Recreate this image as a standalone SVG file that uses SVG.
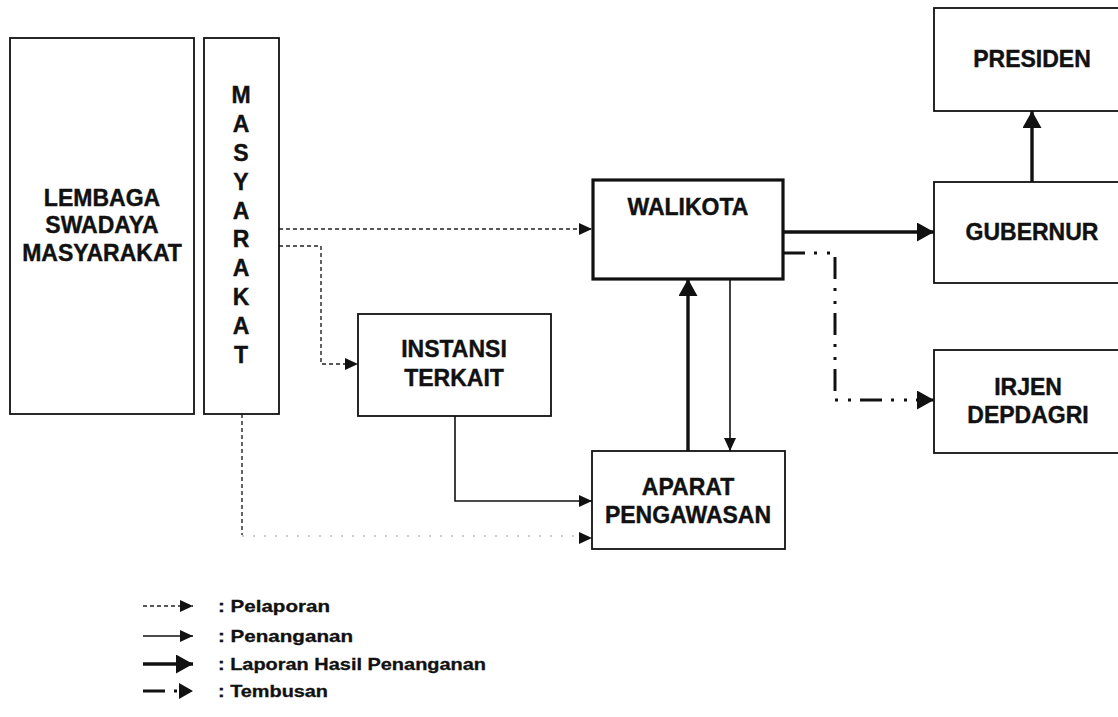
<svg xmlns="http://www.w3.org/2000/svg" width="1118" height="717" viewBox="0 0 1118 717">
<style>
.box{fill:#fff;stroke:#111;stroke-width:1.8}
.boxb{fill:#fff;stroke:#111;stroke-width:3.2}
.t{font-family:"Liberation Sans",Arial,sans-serif;font-weight:bold;font-size:23px;fill:#111;text-anchor:middle;stroke:#111;stroke-width:0.4}
.lg{font-family:"Liberation Sans",Arial,sans-serif;font-weight:bold;font-size:16.5px;fill:#111;stroke:#111;stroke-width:0.3}
.pel{fill:none;stroke:#222;stroke-width:1.4;stroke-dasharray:4 3}
.pelf{fill:none;stroke:#999;stroke-width:1.2;stroke-dasharray:2 9}
.pen{fill:none;stroke:#111;stroke-width:1.6}
.lap{fill:none;stroke:#111;stroke-width:3.4}
.tem{fill:none;stroke:#111;stroke-width:3;stroke-dasharray:22 9 3 10 3 9}
</style>
<defs>
<marker id="as" viewBox="0 0 13 12" refX="13" refY="6" markerWidth="13" markerHeight="12" markerUnits="userSpaceOnUse" orient="auto"><path d="M0,0 L13,6 L0,12 z" fill="#111"/></marker>
<marker id="am" viewBox="0 0 14 16" refX="14" refY="8" markerWidth="14" markerHeight="16" markerUnits="userSpaceOnUse" orient="auto"><path d="M0,0 L14,8 L0,16 z" fill="#111"/></marker>
<marker id="al" viewBox="0 0 17 19" refX="17" refY="9.5" markerWidth="17" markerHeight="19" markerUnits="userSpaceOnUse" orient="auto"><path d="M0,0 L17,9.5 L0,19 z" fill="#111"/></marker>
</defs>
<rect width="1118" height="717" fill="#fff"/>

<g id="connectors">
<path class="pel" d="M279,229 H592" marker-end="url(#as)"/>
<path class="pel" d="M279,246 H321 V364 H358" marker-end="url(#as)"/>
<path class="pel" d="M242,414 V535"/>
<path class="pelf" d="M242,536 H580"/>
<path d="M580,538 H592" stroke="none" marker-end="url(#as)"/>
<path class="pen" d="M455,416 V501 H592" marker-end="url(#as)"/>
<path class="pen" d="M730,279 V451" marker-end="url(#as)"/>
<path class="lap" d="M688,451 V279" marker-end="url(#al)"/>
<path class="lap" d="M783,232 H934" marker-end="url(#al)"/>
<path class="lap" d="M1032,182 V111" marker-end="url(#al)"/>
<path class="tem" d="M783,253 H835 V400 H934" marker-end="url(#al)"/>
</g>

<g id="lsm">
<rect class="box" x="10" y="38" width="184" height="376"/>
<text class="t" x="102" y="206">LEMBAGA</text>
<text class="t" x="102" y="233">SWADAYA</text>
<text class="t" x="102" y="261">MASYARAKAT</text>
</g>

<g id="masyarakat">
<rect class="box" x="204" y="38" width="75" height="376"/>
<text class="t" x="241" y="103">M</text>
<text class="t" x="241" y="132">A</text>
<text class="t" x="241" y="161">S</text>
<text class="t" x="241" y="190">Y</text>
<text class="t" x="241" y="219">A</text>
<text class="t" x="241" y="247">R</text>
<text class="t" x="241" y="276">A</text>
<text class="t" x="241" y="305">K</text>
<text class="t" x="241" y="334">A</text>
<text class="t" x="241" y="363">T</text>
</g>

<g id="instansi">
<rect class="box" x="358" y="314" width="193" height="102"/>
<text class="t" x="454" y="357">INSTANSI</text>
<text class="t" x="454" y="386">TERKAIT</text>
</g>

<g id="walikota">
<rect class="boxb" x="593" y="180" width="190" height="99"/>
<text class="t" x="688" y="215">WALIKOTA</text>
</g>

<g id="aparat">
<rect class="box" x="592" y="451" width="193" height="98"/>
<text class="t" x="688" y="495">APARAT</text>
<text class="t" x="688" y="523">PENGAWASAN</text>
</g>

<g id="presiden">
<rect class="box" x="934" y="8" width="200" height="103"/>
<text class="t" x="1032" y="67">PRESIDEN</text>
</g>

<g id="gubernur">
<rect class="box" x="934" y="182" width="200" height="101"/>
<text class="t" x="1032" y="240">GUBERNUR</text>
</g>

<g id="irjen">
<rect class="box" x="934" y="350" width="200" height="103"/>
<text class="t" x="1028" y="395">IRJEN</text>
<text class="t" x="1028" y="423">DEPDAGRI</text>
</g>

<g id="legend">
<path class="pel" d="M143,606 H193" marker-end="url(#as)"/>
<path class="pen" d="M143,636 H193" stroke-width="1.2" marker-end="url(#as)"/>
<path class="lap" d="M143,664 H193" stroke-width="3" marker-end="url(#al)"/>
<path class="tem" d="M143,691 H193" stroke-dasharray="18 6 3 6 3 40" marker-end="url(#am)"/>
<text class="lg" x="218" y="612" textLength="112" lengthAdjust="spacingAndGlyphs">: Pelaporan</text>
<text class="lg" x="218" y="642" textLength="135" lengthAdjust="spacingAndGlyphs">: Penanganan</text>
<text class="lg" x="218" y="670" textLength="268" lengthAdjust="spacingAndGlyphs">: Laporan Hasil Penanganan</text>
<text class="lg" x="218" y="697" textLength="110" lengthAdjust="spacingAndGlyphs">: Tembusan</text>
</g>
</svg>
